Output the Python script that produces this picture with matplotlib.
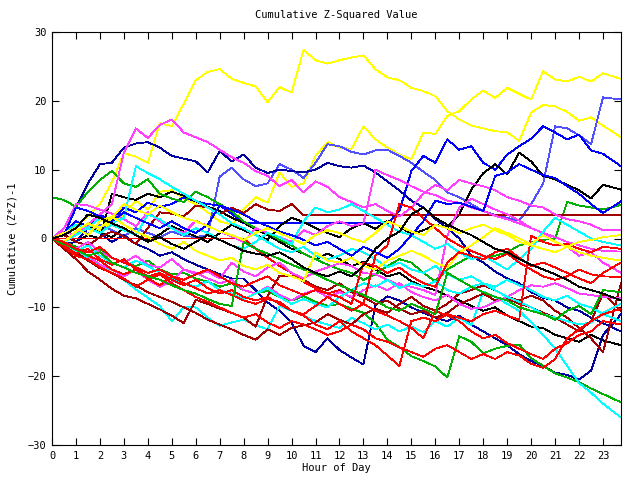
import numpy as np
import matplotlib
matplotlib.use("Agg")
from matplotlib import pyplot as plt, rcParams

rcParams["font.family"] = "DejaVu Sans Mono"
rcParams["font.size"] = 7.5

# sample times (hours): every half hour, last sample at the right edge
hours = [h * 0.5 for h in range(47)] + [23.75]

# colours used by the plotting program
yellow, slate, navy, blue = "#ffff00", "#5050ff", "#0000a0", "#0000ff"
black, green, cyan, dred = "#000000", "#00b000", "#00ffff", "#a00000"
red, magenta = "#ff0000", "#ff40ff"

series = [
    (yellow, [0, 0.6, 1.8, 3.2, 5.0, 8.2, 12.4, 11.9, 11.0, 16.8, 16.3, 19.6,
              23.0, 24.2, 24.6, 23.2, 22.6, 22.1, 19.8, 22.0, 21.2, 27.4, 25.9, 25.4,
              25.9, 26.3, 26.6, 24.6, 23.4, 23.0, 21.9, 21.4, 20.7, 18.5, 17.3, 16.4,
              16.0, 15.6, 15.4, 14.2, 18.3, 19.4, 19.2, 18.4, 17.1, 17.6, 16.4, 14.7]),
    (yellow, [0, -0.5, 0.8, 2.0, 1.2, 2.4, 3.5, 5.5, 4.2, 6.8, 7.0, 5.8,
              5.0, 3.8, 2.5, 2.0, 4.2, 6.0, 5.2, 9.6, 7.5, 8.0, 12.0, 14.0,
              13.2, 13.0, 16.3, 14.4, 13.2, 12.2, 11.5, 15.4, 15.2, 17.8, 18.5, 20.2,
              21.5, 20.4, 21.9, 21.0, 20.2, 24.3, 23.1, 22.8, 23.5, 22.8, 24.0, 23.2]),
    (slate, [0, 0.8, 1.5, 0.6, 2.0, 1.2, 0.3, 1.5, 0.8, 0.2, 1.0, 0.4,
             0.2, 0.5, 9.0, 10.3, 8.6, 7.6, 8.0, 10.8, 10.0, 8.8, 11.0, 13.7,
             13.4, 12.6, 12.2, 12.8, 12.9, 12.0, 11.0, 9.7, 8.5, 6.7, 6.0, 5.0,
             4.0, 3.4, 3.0, 2.6, 5.0, 8.0, 16.3, 16.0, 15.0, 13.7, 20.5, 20.2]),
    (navy, [0, 1.5, 4.5, 8.0, 10.8, 11.0, 13.2, 13.8, 14.0, 13.2, 12.0, 11.6,
            11.2, 9.6, 12.7, 11.2, 12.2, 10.3, 9.5, 10.0, 9.8, 9.6, 10.0, 11.0,
            10.5, 10.3, 10.6, 9.6, 8.3, 7.0, 5.5, 4.5, 2.8, 1.5, 0.0, -2.5,
            -3.5, -4.8, -5.8, -6.5, -7.8, -8.6, -9.0, -10.0, -10.5, -11.5, -12.3, -13.5]),
    (blue, [0, 0.8, 2.5, 1.8, 3.5, 2.6, 4.5, 3.8, 5.2, 4.6, 5.0, 6.0,
            5.4, 5.0, 4.8, 3.6, 2.2, 2.2, 2.2, 2.2, 2.2, 2.2, 2.2, 2.2,
            2.2, 2.2, 2.2, 2.2, 2.2, 4.0, 9.8, 12.0, 11.0, 14.4, 12.9, 13.4,
            11.0, 10.0, 12.2, 13.4, 14.5, 16.3, 15.4, 14.4, 15.1, 12.8, 12.3, 10.5]),
    (black, [0, -0.5, 0.5, 1.8, 0.8, 0.2, 1.5, 0.5, -0.3, 0.6, 1.8, 1.0,
             0.3, -0.5, 0.8, 2.0, 1.2, 0.5, -0.2, 1.8, 3.0, 2.4, 1.5, 0.8,
             0.2, 1.5, 2.2, 1.4, 2.6, 1.8, 0.6, 1.2, 2.0, 1.6, 3.5, 7.1,
             9.5, 10.8, 9.3, 12.5, 11.2, 9.1, 8.6, 7.8, 7.0, 5.8, 7.8, 7.1]),
    (black, [0, 0.6, -0.4, 0.5, 0.0, 6.5, 6.0, 5.6, 6.5, 6.0, 6.8, 6.2,
             5.4, 4.6, 4.0, 3.0, 2.3, 1.3, 0.5, -0.5, -1.5, -2.2, -3.0, -2.2,
             -3.0, -4.0, -3.4, -4.5, -5.5, -5.0, -6.2, -7.0, -7.5, -8.3, -9.0, -9.8,
             -10.5, -10.0, -11.2, -12.0, -12.8, -13.0, -14.0, -14.5, -15.0, -14.0, -14.8, -15.5]),
    (navy, [0, -0.8, -0.5, 1.5, 0.8, -0.5, 0.5, -0.8, -1.5, -2.5, -2.0, -3.0,
            -3.8, -4.5, -5.2, -5.8, -5.8, -7.5, -9.3, -10.5, -12.2, -15.6, -16.5, -14.5,
            -16.2, -17.3, -18.3, -9.7, -8.4, -9.0, -10.0, -10.8, -11.5, -12.0, -11.2, -12.5,
            -13.5, -14.5, -15.5, -16.8, -17.8, -18.5, -19.5, -19.8, -20.5, -19.2, -14.0, -11.0]),
    (green, [6.0, 5.6, 4.6, 6.8, 8.5, 9.8, 8.0, 7.5, 8.6, 6.5, 5.8, 5.3,
             6.8, 6.0, 5.0, 4.0, 2.5, 1.5, 0.8, -0.2, -1.0, -2.2, -3.0, -3.8,
             -4.5, -5.0, -6.0, -5.2, -4.0, -3.0, -3.5, -5.0, -6.2, -4.5, -3.5, -2.5,
             -3.0, -2.5, -2.0, -1.0, -0.5, -0.2, 0.0, 5.3, 4.8, 4.5, 4.2, 4.9]),
    (green, [0, -0.5, -1.2, -2.0, -1.5, -2.8, -3.5, -4.0, -3.2, -4.5, -5.2, -5.0,
             -5.8, -6.3, -7.0, -6.5, -7.5, -8.0, -7.6, -8.5, -9.0, -8.4, -9.2, -9.8,
             -9.5, -10.2, -10.8, -12.3, -14.7, -15.8, -17.1, -17.8, -18.6, -20.2, -14.2, -15.0,
             -16.7, -16.0, -15.6, -15.4, -17.4, -18.5, -19.6, -20.2, -20.9, -21.8, -22.6, -23.8]),
    (cyan, [0, -0.8, -2.0, -2.8, -3.8, -5.0, -6.0, -7.4, -8.6, -9.8, -12.0, -10.0,
            -10.0, -11.5, -12.7, -12.2, -11.8, -12.6, -13.2, -9.8, -10.5, -11.2, -12.0, -12.5,
            -13.0, -11.5, -12.3, -13.2, -12.5, -13.5, -12.8, -13.6, -12.0, -12.8, -11.5, -12.6,
            -7.7, -8.5, -9.5, -10.5, -12.2, -14.0, -16.0, -18.5, -21.0, -22.4, -24.0, -26.0]),
    (dred, [0, -1.5, -3.0, -4.8, -6.0, -7.3, -8.3, -8.7, -9.5, -10.3, -11.2, -12.3,
            -8.9, -9.5, -10.2, -10.8, -11.5, -12.8, -8.3, -5.4, -5.4, -6.0, -7.0, -7.5,
            -6.5, -7.8, -8.5, -9.5, -9.0, -10.2, -11.0, -10.5, -11.5, -10.8, -9.5, -8.8,
            -8.0, -9.0, -8.7, -9.5, -10.0, -10.8, -11.5, -12.5, -13.5, -12.0, -8.0, -10.5]),
    (dred, [0, -1.0, -2.0, -3.2, -4.3, -5.0, -6.0, -6.8, -7.8, -8.5, -9.2, -10.0,
            -10.8, -11.8, -12.5, -13.2, -14.0, -14.7, -13.2, -14.0, -13.0, -12.6, -12.2, -11.0,
            -11.8, -12.5, -11.0, -10.2, -10.8, -9.5, -8.5, -9.8, -10.5, -9.5, -8.0, -7.5,
            -6.8, -7.5, -8.5, -9.0, -8.3, -9.0, -10.5, -11.5, -13.0, -14.5, -16.5, -6.5]),
    (red, [0, 0, 0, 0, 0, 0, 0, 0, 0, 0, 0, 0,
           0, 0, 0, 0, 0, -1.5, -2.8, -4.0, -5.0, -6.3, -7.2, -8.0,
           -7.5, -8.6, -9.5, -10.5, -11.2, -12.0, -13.0, -14.5, -10.5, -11.2, -12.0, -13.5,
           -14.5, -14.0, -15.2, -16.0, -16.8, -17.5, -16.0, -15.2, -14.0, -13.5, -12.0, -12.5]),
    (dred, [0, 0.5, -0.5, -1.0, 0.2, 1.0, 0.3, -0.8, 1.5, 3.8, 3.6, 3.2,
            4.8, 4.5, 3.5, 4.5, 3.7, 5.0, 4.2, 4.0, 5.0, 3.4, 3.4, 3.4,
            3.4, 3.4, 3.4, 3.4, 3.4, 3.4, 3.4, 3.4, 3.4, 3.4, 3.4, 3.4,
            3.4, 3.4, 3.4, 3.4, 3.4, 3.4, 3.4, 3.4, 3.4, 3.4, 3.4, 3.4]),
    (magenta, [0, 1.0, 0.5, 2.0, 3.5, 5.0, 12.5, 16.0, 14.6, 16.5, 17.3, 15.4,
               14.7, 14.0, 12.9, 11.8, 11.0, 9.8, 9.1, 7.6, 8.5, 6.7, 8.3, 7.5,
               6.0, 5.3, 4.5, 5.0, 4.0, 3.2, 4.5, 6.5, 7.8, 7.0, 8.5, 8.0,
               7.6, 7.0, 6.0, 5.5, 4.8, 4.5, 3.5, 2.8, 2.5, 2.0, 1.2, 1.3]),
    (magenta, [0, 1.5, 5.0, 4.8, 4.2, 3.6, 2.8, 1.8, 3.8, 2.5, 1.5, 0.8,
               2.6, 1.8, 1.0, 0.3, -0.5, 1.5, 0.8, 0.2, -0.5, 1.2, 0.5, 1.8,
               2.5, 1.8, 2.2, 10.0, 9.2, 8.5, 7.6, 6.8, 6.3, 5.5, 5.2, 4.5,
               4.0, 3.3, 2.8, 2.2, 1.5, 0.8, 0.2, -0.5, -1.0, -1.5, -1.8, -1.9]),
    (magenta, [0, -0.8, -1.5, -0.5, -2.0, -2.8, -3.5, -2.5, -3.8, -4.2, -3.0, -4.5,
               -5.2, -4.8, -5.8, -3.5, -4.8, -5.5, -4.2, -3.5, -5.0, -5.8, -4.8, -4.2,
               -3.6, -4.0, -5.0, -5.2, -6.0, -6.8, -7.0, -7.5, -8.2, 0.4, 4.5, 5.8,
               5.0, 4.2, 3.5, 2.6, 1.5, 0.8, -0.5, -1.2, -2.5, -2.0, -3.5, -5.0]),
    (magenta, [0, -0.5, -1.5, -2.5, -3.8, -4.5, -5.5, -4.5, -6.0, -7.0, -6.2, -4.5,
               -5.0, -5.8, -6.5, -6.0, -7.5, -8.0, -7.0, -8.2, -9.0, -8.0, -7.5, -8.5,
               -7.8, -8.5, -7.5, -6.8, -7.5, -6.5, -7.8, -8.5, -9.0, -8.2, -9.5, -10.2,
               -10.0, -9.2, -8.5, -7.5, -6.8, -7.0, -6.5, -7.2, -8.0, -8.2, -8.5, -8.7]),
    (cyan, [0, 0.8, 2.0, 1.5, 3.0, 2.2, 3.0, 10.5, 9.5, 8.6, 7.5, 6.5,
            5.5, 4.5, 3.5, 2.2, 1.5, 0.5, -0.5, -1.5, -2.0, -1.2, -2.5, -3.0,
            -2.5, -1.5, -2.0, -3.0, -4.2, -3.5, -4.5, -5.0, -4.0, -5.2, -6.0, -5.5,
            -6.5, -7.0, -6.0, -6.8, -7.5, -8.5, -9.0, -8.3, -9.5, -10.0, -11.0, -12.0]),
    (cyan, [0, -0.5, 0.5, 1.5, 0.8, 2.0, 1.2, 0.5, 3.5, 2.8, 1.5, 0.5,
            1.5, 0.8, -0.2, -1.0, -1.5, -0.5, 0.8, 0.2, -0.8, 2.5, 4.5, 3.8,
            4.2, 5.0, 4.0, 3.0, 2.0, 1.0, 0.5, -0.5, -1.5, -0.8, -2.0, -3.0,
            -2.5, -3.5, -4.5, -3.0, -1.5, 1.0, 3.0, 2.0, 1.0, 0.0, -0.5, -1.0]),
    (cyan, [0, -1.0, -1.8, -1.0, -2.5, -3.5, -4.2, -3.2, -4.0, -5.0, -5.8, -6.5,
            -7.0, -6.2, -7.5, -8.0, -8.8, -8.0, -7.2, -8.5, -9.5, -8.8, -9.5, -10.0,
            -8.5, -7.5, -6.5, -7.0, -6.0, -7.2, -6.5, -7.0, -6.2, -7.5, -8.0, -7.0,
            -6.5, -7.5, -8.5, -9.2, -10.0, -11.0, -11.5, -12.0, -12.5, -12.2, -10.8, -9.5]),
    (red, [0, -1.0, -2.2, -1.5, -3.0, -3.8, -3.0, -4.5, -5.5, -5.0, -6.0, -6.8,
           -6.0, -7.2, -8.0, -7.5, -8.5, -9.0, -8.5, -9.5, -10.5, -11.0, -9.8, -8.5,
           -9.5, -10.5, -9.5, -2.5, -1.0, 5.0, 4.5, 3.0, 1.5, 0.0, -1.0, -1.8,
           -2.5, -3.0, -2.2, -3.5, -4.5, -5.5, -6.0, -5.5, -4.5, -5.2, -5.5, -5.6]),
    (red, [0, -0.8, -1.5, -2.5, -3.2, -4.5, -5.2, -4.5, -5.8, -6.8, -5.5, -6.5,
           -7.2, -8.0, -7.5, -8.2, -9.0, -9.5, -8.8, -9.2, -10.5, -11.2, -12.5, -13.2,
           -12.0, -13.5, -14.5, -15.5, -17.0, -18.5, -12.0, -11.5, -12.0, -11.0, -11.5, -12.0,
           -11.0, -10.5, -11.2, -11.8, 0.4, -0.5, -1.0, -0.8, -1.5, -2.0, -1.2, -1.5]),
    (red, [0, -1.2, -2.5, -3.0, -4.2, -5.0, -5.8, -7.0, -6.0, -5.2, -6.5, -7.5,
           -8.5, -9.2, -10.0, -10.8, -11.5, -11.0, -12.2, -13.0, -12.0, -12.5, -13.2, -14.0,
           -13.5, -12.5, -13.2, -14.5, -15.0, -15.8, -16.5, -17.2, -16.0, -15.5, -16.5, -17.5,
           -16.8, -17.5, -16.5, -17.0, -18.2, -18.8, -17.5, -14.5, -13.2, -12.0, -11.0, -10.2]),
    (green, [0, -0.8, -1.6, -2.5, -2.0, -3.5, -4.2, -5.0, -5.5, -6.0, -6.8, -7.5,
             -8.0, -8.8, -9.5, -9.8, -0.5, -1.5, -2.2, -3.0, -3.8, -4.5, -5.2, -6.0,
             -6.8, -7.5, -8.2, -9.0, -10.0, -10.5, -9.5, -10.2, -11.0, -5.0, -6.0, -7.0,
             -7.8, -8.5, -9.0, -10.0, -10.5, -11.0, -11.8, -10.5, -9.8, -11.0, -7.5, -7.8]),
    (blue, [0, 0.5, 4.5, 4.0, 3.2, 2.5, 3.8, 3.0, 2.2, 1.5, 2.5, 1.5,
            0.8, 2.0, 4.8, 4.2, 3.5, 2.5, 1.8, 1.0, 0.5, -0.2, -1.0, -0.5,
            -1.5, -2.5, -1.2, -2.0, -2.8, -1.5, 0.5, 2.5, 5.5, 5.0, 5.2, 4.6,
            4.0, 9.1, 9.6, 10.8, 10.0, 9.2, 8.8, 7.6, 6.5, 5.0, 3.7, 5.4]),
    (yellow, [0, 0.8, 1.5, 0.5, 2.5, 3.2, 2.0, 1.0, 0.2, -0.8, -1.5, -0.5,
              -1.8, -2.5, -3.2, -2.8, -4.0, -4.5, -3.8, -5.0, -5.5, -6.2, -2.0, -3.2,
              -3.5, -2.8, -4.0, -4.5, -3.2, -2.5, -1.8, -2.5, -3.5, -4.2, -2.0, -1.0,
              0.2, 1.5, 0.8, 0.0, -0.8, 0.5, -0.5, -1.2, -2.0, -2.5, -2.8, -3.2]),
    (yellow, [0, -0.5, 1.0, 2.2, 1.5, 3.0, 5.0, 4.2, 3.5, 4.8, 3.8, 3.0,
              2.5, 1.8, 1.0, 0.5, -0.2, 0.8, 1.5, 0.8, 0.0, -0.8, 0.5, 1.2,
              0.8, 0.0, -0.5, 0.8, 2.5, 1.8, 1.0, 0.5, 2.0, 1.5, 0.8, 1.5,
              2.0, 1.2, 0.5, -0.5, -1.0, -1.5, -2.0, -1.2, -0.5, -0.2, 0.2, 0.5]),
    (red, [0, -0.5, -1.5, -2.0, -1.2, -2.8, -3.5, -4.2, -5.0, -4.5, -5.5, -6.0,
           -5.2, -4.5, -5.5, -6.5, -7.0, -6.2, -5.5, -6.8, -7.5, -8.2, -7.5, -8.0,
           -8.5, -9.5, -3.5, -4.0, -5.0, -4.2, -5.5, -6.5, -7.0, -3.5, -2.0, -2.5,
           -3.0, -2.0, -1.5, -2.8, -4.0, -3.5, -4.2, -5.0, -5.8, -6.5, -5.0, -3.5]),
    (black, [0, 0.5, 1.5, 3.5, 3.0, 2.2, 1.5, 0.5, -0.5, 0.2, -0.8, -1.5,
             -0.5, 0.5, -0.2, -1.0, -1.8, -2.2, -2.5, -2.0, -3.0, -4.2, -5.0, -5.5,
             -4.8, -5.5, -4.0, -1.5, 0.0, 1.0, 3.5, 4.5, 3.0, 2.0, 1.2, 0.5,
             -0.5, -1.5, -2.0, -3.0, -3.8, -4.5, -5.2, -6.0, -7.0, -7.5, -8.0, -9.0]),
]

fig = plt.figure(figsize=(6.4, 4.8), dpi=100)
ax = fig.add_axes([52 / 640, 1 - 445 / 480, 569 / 640, 413 / 480])
for colour, values in series:
    ax.plot(hours, values, c=colour, lw=0.6, antialiased=False)

ax.set_xlim(0, 23.75)
ax.set_ylim(-30, 30)
ax.set_xticks(range(24))
ax.set_yticks(range(-30, 31, 10))
ax.tick_params(direction="in", length=5, width=0.8, top=True, right=True, pad=4)
for s in ax.spines.values():
    s.set_linewidth(0.8)
ax.set_title("Cumulative Z-Squared Value", fontsize=7.5, pad=10)
ax.set_xlabel("Hour of Day", labelpad=2)
ax.set_ylabel("Cumulative (Z*Z)-1", labelpad=7)
fig.savefig("out.png", dpi=100)
